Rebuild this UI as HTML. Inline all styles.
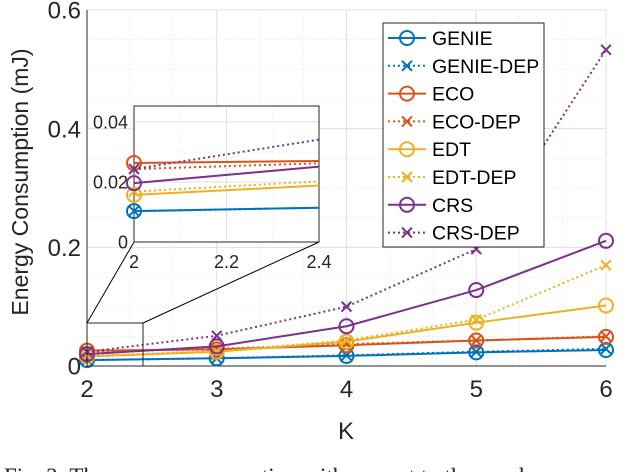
<!DOCTYPE html>
<html><head><meta charset="utf-8"><style>
body{margin:0;background:#fff;}
svg{display:block;}
text{font-family:"Liberation Sans",Arial,sans-serif;}
</style></head><body>
<svg id="chart" width="640" height="472" viewBox="0 0 640 472">
<rect width="640" height="472" fill="#fff"/>
<g id="main"></g>
<g id="inset"></g>
<g id="legend"></g>
<text x="28" y="182" font-size="23" fill="#262626" text-anchor="middle" transform="rotate(-90 28 182)">Energy Consumption (mJ)</text>
<text x="346" y="439" font-size="24" fill="#262626" text-anchor="middle">K</text>
<text x="4" y="484" font-size="23" style="font-family:'Liberation Serif',serif" fill="#222">Fig. 3: The energy consumption with respect to the numb</text>
</svg>
<script>
const categories=[2,3,4,5,6];
const seriesNames=["GENIE","GENIE-DEP","ECO","ECO-DEP","EDT","EDT-DEP","CRS","CRS-DEP"];
const seriesColors=["#0072BD","#0072BD","#D95319","#D95319","#EDB120","#EDB120","#7E2F8E","#7E2F8E"];
const genie=[0.010,0.013,0.017,0.023,0.027];
const genieDep=[0.010,0.013,0.018,0.024,0.029];
const eco=[0.026,0.028,0.035,0.043,0.049];
const ecoDep=[0.024,0.029,0.037,0.043,0.050];
const edt=[0.016,0.024,0.041,0.073,0.102];
const edtDep=[0.017,0.025,0.043,0.078,0.170];
const crs=[0.020,0.033,0.067,0.128,0.211];
const crsDep=[0.024,0.051,0.100,0.197,0.533];
const insetX=[2,2.4];
const insetGenie=[0.0103,0.0114];
const insetGenieDep=[0.0103,0.0114];
const insetEco=[0.0263,0.0270];
const insetEcoDep=[0.0243,0.0262];
const insetEdt=[0.0157,0.0188];
const insetEdtDep=[0.0168,0.0202];
const insetCrs=[0.0196,0.0251];
const insetCrsDep=[0.0243,0.0341];
const yTicks=[0,0.2,0.4,0.6];
const yTickLabels=["0","0.2","0.4","0.6"];
const xTickLabels=["2","3","4","5","6"];
const insetYTicks=[0,0.02,0.04];
const insetYTickLabels=["0","0.02","0.04"];
const insetXTicks=[2,2.2,2.4];
const insetXTickLabels=["2","2.2","2.4"];

const NS="http://www.w3.org/2000/svg";
function mk(parent,tag,attrs){const e=document.createElementNS(NS,tag);for(const k in attrs)e.setAttribute(k,attrs[k]);parent.appendChild(e);return e;}
const main=document.getElementById('main'),inset=document.getElementById('inset'),legend=document.getElementById('legend');
const M={l:87,r:606,t:10,b:366,x0:2,x1:6,y0:0,y1:0.6};
const I={l:134,r:319,t:106,b:242,x0:2,x1:2.4,y0:0,y1:0.0453};
function sx(a,v){return a.l+(v-a.x0)/(a.x1-a.x0)*(a.r-a.l);}
function sy(a,v){return a.b-(v-a.y0)/(a.y1-a.y0)*(a.b-a.t);}

function drawAxes(g,a,xt,xl,yt,yl,xMinor,yMinor,fs,name,xgap){
  const bg=mk(g,'rect',{x:a.l,y:a.t,width:a.r-a.l,height:a.b-a.t,fill:'#fff'});
  
  
  xMinor.forEach(v=>{mk(g,'line',{x1:sx(a,v),x2:sx(a,v),y1:a.t,y2:a.b,stroke:'#e4e4e4','stroke-width':0.8,'stroke-dasharray':'1,2'});});
  yMinor.forEach(v=>{mk(g,'line',{x1:a.l,x2:a.r,y1:sy(a,v),y2:sy(a,v),stroke:'#e4e4e4','stroke-width':0.8,'stroke-dasharray':'1,2'});});
  xt.forEach((v,i)=>{mk(g,'line',{x1:sx(a,v),x2:sx(a,v),y1:a.t,y2:a.b,stroke:'#e0e0e0','stroke-width':1});
    const t=mk(g,'text',{x:sx(a,v),y:a.b+fs+xgap,'font-size':fs,fill:'#262626','text-anchor':'middle'});t.textContent=xl[i];
    
    });
  yt.forEach((v,i)=>{mk(g,'line',{x1:a.l,x2:a.r,y1:sy(a,v),y2:sy(a,v),stroke:'#e0e0e0','stroke-width':1});
    const t=mk(g,'text',{x:a.l-6,y:sy(a,v)+fs*0.36,'font-size':fs,fill:'#262626','text-anchor':'end'});t.textContent=yl[i];
    
    });
}
function drawSeries(g,a,xs,ys,color,dep,ms,name,markerCount){
  const pts=xs.map((x,i)=>sx(a,x)+','+sy(a,ys[i])).join(' ');
  const p=mk(g,'polyline',{points:pts,fill:'none',stroke:color,'stroke-width':2,'stroke-dasharray':dep?'2,3':'none'});
  
  
  xs.forEach((x,i)=>{if(i>=markerCount)return;const cx=sx(a,x),cy=sy(a,ys[i]);
    let m;
    if(dep){m=mk(g,'path',{d:`M${cx-ms*0.7},${cy-ms*0.7}L${cx+ms*0.7},${cy+ms*0.7}M${cx-ms*0.7},${cy+ms*0.7}L${cx+ms*0.7},${cy-ms*0.7}`,stroke:color,'stroke-width':2});}
    else{m=mk(g,'circle',{cx:cx,cy:cy,r:ms,fill:'none',stroke:color,'stroke-width':2});}
    
    });
}
const mxMinor=[],myMinor=[];
for(let v=2;v<=6.001;v+=1/3)mxMinor.push(v);
for(let v=0;v<=0.6;v+=0.05)myMinor.push(v);
drawAxes(main,M,categories,xTickLabels,yTicks,yTickLabels,mxMinor,myMinor,24,'main',7);
mk(main,'path',{d:`M${M.l},${M.t}V${M.b}H${M.r}`,fill:'none',stroke:'#262626','stroke-width':1});
const allMain=[genie,genieDep,eco,ecoDep,edt,edtDep,crs,crsDep];
const allInset=[insetGenie,insetGenieDep,insetEco,insetEcoDep,insetEdt,insetEdtDep,insetCrs,insetCrsDep];
allMain.forEach((s,i)=>drawSeries(main,M,categories,s,seriesColors[i],i%2==1,7,seriesNames[i].toLowerCase(),99));
const zr=mk(main,'rect',{x:87,y:323,width:56,height:43,fill:'none',stroke:'#262626','stroke-width':1});


mk(main,'line',{x1:87,y1:323,x2:I.l,y2:I.b,stroke:'#000','stroke-width':1});
mk(main,'line',{x1:143,y1:323,x2:I.r,y2:I.b,stroke:'#000','stroke-width':1});
const ixMinor=[],iyMinor=[];
for(let v=2;v<=2.401;v+=0.1)ixMinor.push(v);
for(let v=0;v<=0.045;v+=0.01)iyMinor.push(v);
drawAxes(inset,I,insetXTicks,insetXTickLabels,insetYTicks,insetYTickLabels,ixMinor,iyMinor,18,'inset',8);
mk(inset,'rect',{x:I.l,y:I.t,width:I.r-I.l,height:I.b-I.t,fill:'none',stroke:'#262626','stroke-width':1});
allInset.forEach((s,i)=>drawSeries(inset,I,insetX,s,seriesColors[i],i%2==1,7,'inset-'+seriesNames[i].toLowerCase(),1));
const lb=mk(legend,'rect',{x:383,y:23,width:161,height:224,fill:'#fff',stroke:'#262626','stroke-width':1});


seriesNames.forEach((n,i)=>{const y=38+i*27.8,c=seriesColors[i],dep=i%2==1;
  const g=mk(legend,'g',{});
  
  
  mk(g,'line',{x1:388,x2:426,y1:y,y2:y,stroke:c,'stroke-width':2,'stroke-dasharray':dep?'2,3':'none'});
  if(dep)mk(g,'path',{d:`M402,${y-5}L412,${y+5}M402,${y+5}L412,${y-5}`,stroke:c,'stroke-width':2});
  else mk(g,'circle',{cx:407,cy:y,r:7,fill:'none',stroke:c,'stroke-width':2});
  const t=mk(g,'text',{x:432,y:y+7,'font-size':19.5,fill:'#000'});t.textContent=n;});
</script>
</body></html>
